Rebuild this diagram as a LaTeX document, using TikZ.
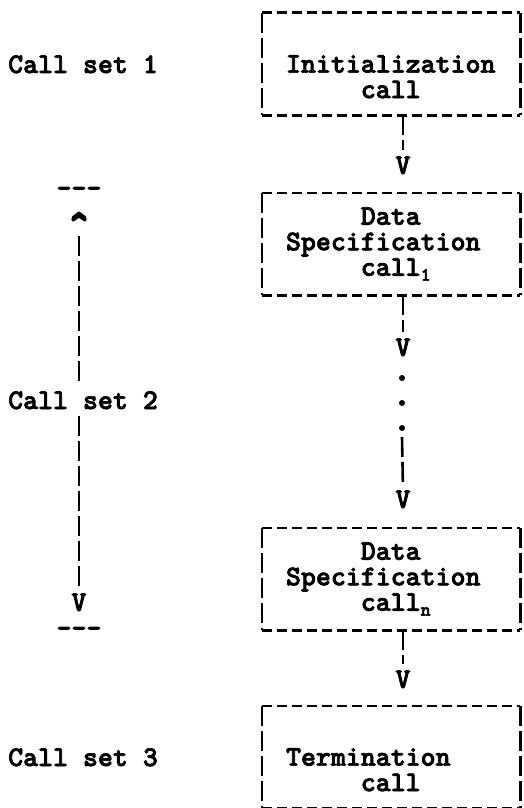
\documentclass[tikz,border=0pt]{standalone}
\usepackage{fontspec}
\setmonofont{lmmonolt10-bold.otf}[FakeBold=2.5]
\usetikzlibrary{positioning}

\newcommand{\idx}[1]{\raisebox{-0.4ex}{\fontsize{19}{19}\selectfont #1}}
\newcommand{\rangebar}{\mbox{-}\mbox{-}\mbox{-}}

\begin{document}
\begin{tikzpicture}[
    x=1pt, y=-1pt,
    txt/.style={
        font=\ttfamily\fontsize{28.5}{25.5}\selectfont,
        inner sep=0pt,
    },
    callbox/.style={
        txt,
        minimum width=258pt,
        minimum height=102pt,
        text width=210pt,
        align=left,
    },
    hside/.style={
        line width=2.6pt,
        dash pattern=on 10pt off 5pt,
    },
    vside/.style={
        line width=2.6pt,
        dash pattern=on 20pt off 5pt,
    },
    vline/.style={
        vside,
        shorten >=6pt,
    },
    arrowhead/.style={
        txt,
    },
    dotnode/.style={
        circle,
        fill,
        minimum size=6pt,
        inner sep=0pt,
    }
]
    \useasboundingbox (0,0) rectangle (524,808);

    % Boxes
    \node[callbox] (init) at (391,64) {\phantom{I}\\Initialization\\\phantom{xxxxx}call};
    \node[callbox] (spec1) at (391,244) {\phantom{xxxxx}Data\\Specification\\\phantom{xxxxx}call\idx{1}};
    \node[callbox] (specn) at (391,579) {\phantom{xxxxx}Data\\Specification\\\phantom{xxxxx}call\idx{n}};
    \node[callbox] (term) at (391,757) {\phantom{I}\\Termination\\\phantom{xxxxx}call};

    \foreach \b in {init,spec1,specn,term} {
        \draw[hside] (\b.north west) -- (\b.north east);
        \draw[hside] (\b.south west) -- (\b.south east);
        \draw[vside] (\b.north west) -- (\b.south west);
        \draw[vside] (\b.north east) -- (\b.south east);
    }

    % Arrow heads
    \node[arrowhead, anchor=base] (v1) at (403,174) {V};
    \node[arrowhead, anchor=base] (v2) at (403,356) {V};
    \node[arrowhead, anchor=base] (v3) at (403,508) {V};
    \node[arrowhead, anchor=base] (v4) at (403,688) {V};

    % Dots
    \node[dotnode] (dot1) at (402,378) {};
    \node[dotnode] (dot2) at (402,403) {};
    \node[dotnode] (dot3) at (402,428) {};

    % Connectors
    \draw[vline] (v1 |- init.south) -- (v1.north);
    \draw[vline] (v2 |- spec1.south) -- (v2.north);
    \draw[vline] (dot3) ++(0,9) -- (v3.north);
    \draw[vline] (v4 |- specn.south) -- (v4.north);

    % Call set labels
    \node[txt, anchor=base west] (set1) at (8,73) {Call set 1};
    \node[txt, anchor=base west] (set2) at (8,409) {Call set 2};
    \node[txt, anchor=base west] (set3) at (8,766) {Call set 3};

    % Range of call set 2
    \node[arrowhead, anchor=north] (up) at (79,212) {\scalebox{1.3}[2]{\textasciicircum}};
    \node[arrowhead, anchor=base] (down) at (79,611) {V};
    \node[txt, anchor=center] (topbar) at (79,192) {\rangebar};
    \node[txt, anchor=center] (botbar) at (79,632) {\rangebar};
    \draw[vside] (up |- 0,236) -- ([yshift=6pt]up |- set2.north);
    \draw[vline] ([yshift=-6pt]up |- set2.south) -- (down.north);
\end{tikzpicture}
\end{document}
